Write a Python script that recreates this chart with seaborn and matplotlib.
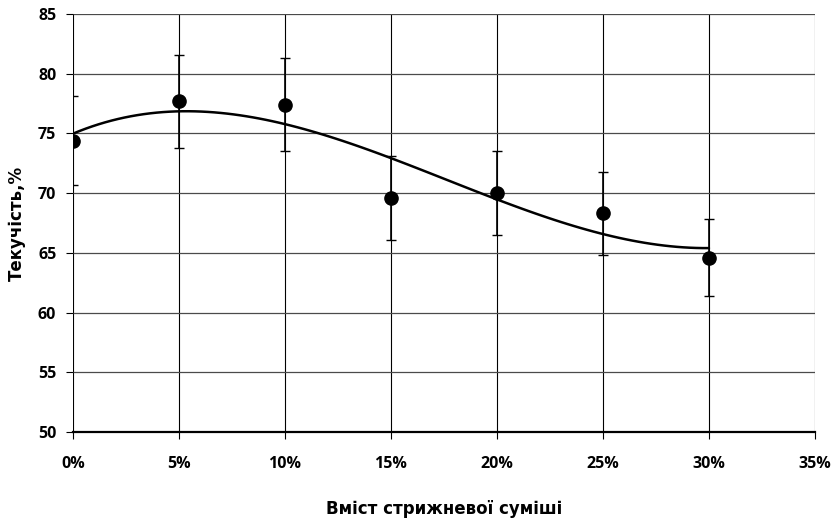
import numpy as np
import pandas as pd
import matplotlib
matplotlib.use("Agg")
import matplotlib.pyplot as plt
import seaborn as sns
from matplotlib.ticker import PercentFormatter, MultipleLocator

# Data
core_share = [0.00, 0.05, 0.10, 0.15, 0.20, 0.25, 0.30]
fluidity = [74.4, 77.7, 77.4, 69.6, 70.0, 68.3, 64.6]
fluidity_err = [3.7, 3.9, 3.9, 3.5, 3.5, 3.5, 3.2]

df = pd.DataFrame({"x": core_share, "y": fluidity, "err": fluidity_err})

sns.set_theme(style="white")
plt.rcParams["font.family"] = ["DejaVu Sans"]
plt.rcParams["text.color"] = "black"
plt.rcParams["axes.labelcolor"] = "black"
plt.rcParams["xtick.color"] = "black"
plt.rcParams["ytick.color"] = "black"

fig = plt.figure(figsize=(8.31, 5.21), dpi=100)
ax = fig.add_axes([0.0878, 0.1708, 0.8929, 0.8023])

# polynomial trend line (Excel-style), fitted by seaborn
sns.regplot(data=df, x="x", y="y", order=3, ci=None, scatter=False,
            line_kws={"color": "black", "lw": 1.8}, ax=ax)

ax.errorbar(df["x"], df["y"], yerr=df["err"], fmt="o", color="black",
            ms=9.5, ecolor="black", elinewidth=1.2, capsize=3.8, capthick=1.0,
            zorder=4)

ax.set_xlim(0, 0.35)
ax.set_ylim(50, 85)
ax.xaxis.set_major_locator(MultipleLocator(0.05))
ax.yaxis.set_major_locator(MultipleLocator(5))
ax.xaxis.set_major_formatter(PercentFormatter(xmax=1, decimals=0))

ax.grid(True, axis="y", color="#4a4a4a", lw=0.9)
ax.grid(True, axis="x", color="black", lw=0.8)
ax.set_axisbelow(True)

for side in ["top", "right", "left"]:
    ax.spines[side].set_visible(False)
ax.spines["bottom"].set_color("black")
ax.spines["bottom"].set_linewidth(1.6)

ax.tick_params(axis="both", direction="out", length=5, width=0.8, color="black",
               bottom=True, left=True, labelsize=11.5,
               labelfontfamily="Open Sans")
ax.tick_params(axis="x", pad=12)
ax.tick_params(axis="y", pad=7)
for lab in ax.get_xticklabels() + ax.get_yticklabels():
    lab.set_fontweight("bold")

ax.set_xlabel("Вміст стрижневої суміші", fontsize=12, fontweight="bold")
ax.set_ylabel("Текучість,%", fontsize=12, fontweight="bold")
ax.xaxis.set_label_coords(0.5, -0.163)
ax.yaxis.set_label_coords(-0.063, 0.5)

fig.savefig("out.png", dpi=100)
